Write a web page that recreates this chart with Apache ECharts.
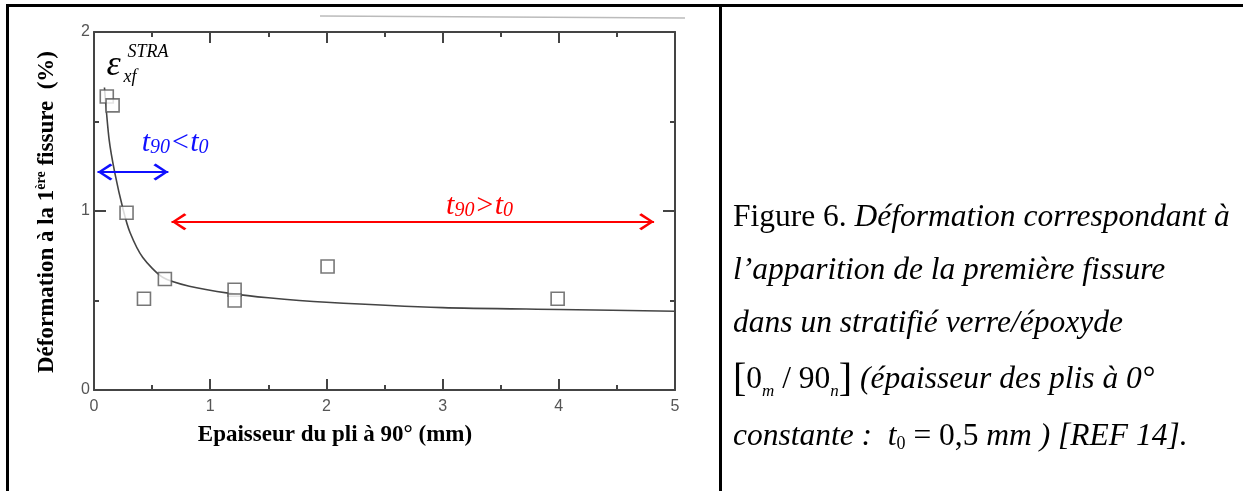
<!DOCTYPE html>
<html><head><meta charset="utf-8">
<script src="https://cdn.jsdelivr.net/npm/echarts@6/dist/echarts.min.js"></script>
<style>html,body{margin:0;padding:0;background:#fff}#c{width:1243px;height:491px}</style>
</head><body><div id="c"></div>
<script>
// ---- data ----
const xTickLabels = ['0', '1', '2', '3', '4', '5'];
const yTickLabels = ['0', '1', '2'];
const thickness = [0.11, 0.16, 0.28, 0.43, 0.61, 1.21, 1.21, 2.01, 3.99];   // mm
const strain    = [1.64, 1.59, 0.99, 0.51, 0.62, 0.56, 0.50, 0.69, 0.51];   // %
const curveX = [0.09, 0.13, 0.18, 0.25, 0.31, 0.42, 0.59, 0.82, 1.17, 1.5, 2.0, 3.0, 4.0, 5.0];
const curveY = [1.69, 1.40, 1.21, 1.01, 0.88, 0.74, 0.63, 0.58, 0.54, 0.515, 0.49, 0.46, 0.45, 0.44];
const blueArrow = [[0.03, 1.218], [0.64, 1.218]];
const redArrow  = [[0.667, 0.94], [4.82, 0.94]];

const serif = '"Liberation Serif", "Times New Roman", serif';
const sans = '"Liberation Sans", Arial, sans-serif';
const axisColor = '#444';
const chevron = 'path://M50,0 L100,85 L90,100 L50,28 L10,100 L0,85 Z M49.9,-100 L50.1,-100 L50,-99.9 Z';

const chart = echarts.init(document.getElementById('c'), null, {renderer: 'canvas'});

function xAxisCfg(pos, showLabel) {
  return {
    type: 'value', min: 0, max: 5, interval: 1, position: pos,
    axisLine: {show: true, onZero: false, lineStyle: {color: axisColor, width: 2}},
    axisTick: {show: true, inside: true, length: 11, lineStyle: {color: axisColor, width: 2}},
    minorTick: {show: true, splitNumber: 2, length: 5, lineStyle: {color: axisColor, width: 2}},
    axisLabel: {show: showLabel, color: '#555', fontSize: 16, fontFamily: sans, margin: 9,
      formatter: v => xTickLabels[Math.round(v)]},
    splitLine: {show: false}, minorSplitLine: {show: false}
  };
}
function yAxisCfg(pos, showLabel) {
  return {
    type: 'value', min: 0, max: 2, interval: 1, position: pos,
    axisLine: {show: true, onZero: false, lineStyle: {color: axisColor, width: 2}},
    axisTick: {show: true, inside: true, length: 12, lineStyle: {color: axisColor, width: 2}},
    minorTick: {show: true, splitNumber: 2, length: 5, lineStyle: {color: axisColor, width: 2}},
    axisLabel: {show: showLabel, color: '#555', fontSize: 16, fontFamily: sans, margin: 4,
      formatter: v => yTickLabels[Math.round(v)]},
    splitLine: {show: false}, minorSplitLine: {show: false}
  };
}

function arrowLine(pts, color) {
  return {
    silent: true, animation: false,
    symbol: [chevron, chevron], symbolSize: [17, 30],
    lineStyle: {color: color, width: 2, type: 'solid'},
    label: {show: false},
    data: [[{coord: pts[0]}, {coord: pts[1]}]]
  };
}

chart.setOption({
  animation: false,
  backgroundColor: '#fff',
  grid: {left: 94, right: 568, top: 32, bottom: 101, containLabel: false},
  xAxis: [xAxisCfg('bottom', true), xAxisCfg('top', false)],
  yAxis: [yAxisCfg('left', true), yAxisCfg('right', false)],
  series: [
    {type: 'line', data: curveX.map((x, i) => [x, curveY[i]]), smooth: 0.25,
     showSymbol: false, lineStyle: {color: '#444', width: 1.6}, z: 2,
     markLine: arrowLine(blueArrow, '#1010ff')},
    {type: 'line', data: [], markLine: arrowLine(redArrow, '#ff0000')},
    {type: 'scatter', data: thickness.map((x, i) => [x, strain[i]]), symbol: 'rect', symbolSize: 13,
     itemStyle: {color: '#fff', borderColor: '#555', borderWidth: 1.6}, z: 3}
  ]
});

function px(pt) { return chart.convertToPixel({gridIndex: 0}, pt); }

const eps = px([0.108, 1.81]);
const blueT = px([0.41, 1.38]);
const redT = px([3.03, 1.03]);

const ttl = (color) => ({
  t: {fontSize: 30, fontStyle: 'italic', fontFamily: serif, fill: color, lineHeight: 30},
  s: {fontSize: 20, fontStyle: 'italic', fontFamily: serif, fill: color, verticalAlign: 'bottom', lineHeight: 22}
});

const rightLines = [
  '{r|Figure 6. }{i|Déformation correspondant à}',
  '{i|l’apparition de la première fissure}',
  '{i|dans un stratifié verre/époxyde}',
  '{br|[}{r|0}{sm|m}{r| / 90}{sm|n}{br|]}{i| (épaisseur des plis à 0°}',
  '{i|constante :  t}{su|0}{r| = 0,5 }{i|mm ) [REF 14].}'
];
const rightY = [218, 271, 324, 380, 437];
const rightRich = {
  r: {fontSize: 31.5, fontFamily: serif, fill: '#000'},
  i: {fontSize: 31.5, fontStyle: 'italic', fontFamily: serif, fill: '#000'},
  br: {fontSize: 40, fontFamily: serif, fill: '#000'},
  sm: {fontSize: 17, fontStyle: 'italic', fontFamily: serif, fill: '#000', verticalAlign: 'bottom', lineHeight: 16},
  su: {fontSize: 18, fontFamily: serif, fill: '#000', verticalAlign: 'bottom', lineHeight: 16}
};

const graphics = [
  // table frame
  {type: 'rect', shape: {x: 6, y: 4, width: 1237, height: 3}, style: {fill: '#000'}, silent: true},
  {type: 'rect', shape: {x: 6, y: 4, width: 3, height: 487}, style: {fill: '#000'}, silent: true},
  {type: 'rect', shape: {x: 719, y: 4, width: 3, height: 487}, style: {fill: '#000'}, silent: true},
  // faint scan edge
  {type: 'line', shape: {x1: 320, y1: 16, x2: 685, y2: 18}, style: {stroke: '#bbb', lineWidth: 1.5}, silent: true},
  // y axis title
  {type: 'text', x: 47, y: 212, rotation: Math.PI / 2, silent: true,
   style: {text: '{b|Déformation à la 1}{sup|ère}{b| fissure  (%)}', align: 'center', verticalAlign: 'middle',
     rich: {b: {fontSize: 23, fontWeight: 'bold', fontFamily: serif, fill: '#000', lineHeight: 26},
            sup: {fontSize: 14, fontWeight: 'bold', fontFamily: serif, fill: '#000', verticalAlign: 'top', lineHeight: 26}}}},
  // x axis title
  {type: 'text', x: 335, y: 435, silent: true,
   style: {text: 'Epaisseur du pli à 90° (mm)', align: 'center', verticalAlign: 'middle',
     fontSize: 23, fontWeight: 'bold', fontFamily: serif, fill: '#000'}},
  // epsilon label
  {type: 'text', x: eps[0], y: eps[1], silent: true,
   style: {text: 'ε', align: 'left', verticalAlign: 'middle', fontSize: 36, fontStyle: 'italic', fontFamily: serif, fill: '#000'}},
  {type: 'text', x: eps[0] + 21, y: eps[1] - 14, silent: true,
   style: {text: 'STRA', align: 'left', verticalAlign: 'middle', fontSize: 18, fontStyle: 'italic', fontFamily: serif, fill: '#000'}},
  {type: 'text', x: eps[0] + 17, y: eps[1] + 11, silent: true,
   style: {text: 'xf', align: 'left', verticalAlign: 'middle', fontSize: 18, fontStyle: 'italic', fontFamily: serif, fill: '#000'}},
  // arrow labels
  {type: 'text', x: blueT[0], y: blueT[1], silent: true,
   style: {text: '{t|t}{s|90}{t|<t}{s|0}', align: 'left', verticalAlign: 'middle', rich: ttl('#1010ff')}},
  {type: 'text', x: redT[0], y: redT[1], silent: true,
   style: {text: '{t|t}{s|90}{t|>t}{s|0}', align: 'left', verticalAlign: 'middle', rich: ttl('#ff0000')}}
];
rightLines.forEach((t, i) => {
  graphics.push({type: 'text', x: 733, y: rightY[i], silent: true,
    style: {text: t, align: 'left', verticalAlign: 'middle', rich: rightRich}});
});
chart.setOption({graphic: graphics});
</script></body></html>
